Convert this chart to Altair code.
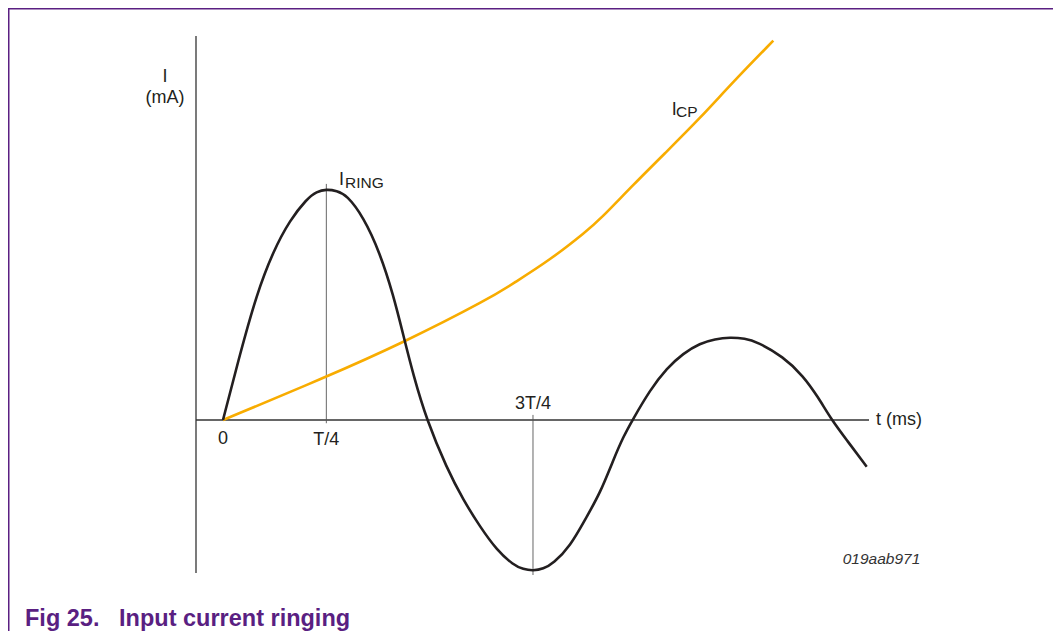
import altair as alt
import pandas as pd

# ---- data (t in units of T/4, current in arbitrary mA units) ----
ring_t = [0.0, 0.1645, 0.3261, 0.4868, 0.6484, 0.8100, 0.9068, 1.0, 1.1004, 1.1971,
          1.3578, 1.5194, 1.6481, 1.7449, 1.8417, 1.9713, 2.1649, 2.3256, 2.4872, 2.6488,
          2.8095, 2.9062, 3.0, 3.0998, 3.1965, 3.3582, 3.5198, 3.6485, 3.7772, 3.8740,
          3.9630, 4.1324, 4.2940, 4.4547, 4.6163, 4.7614, 4.9066, 5.0518, 5.1650, 5.4224,
          5.6160, 5.7583, 5.8908, 6.0360, 6.2296]
ring_i = [0.0, 2.857, 5.455, 7.316, 8.658, 9.567, 9.892, 9.987, 9.922, 9.740,
          8.801, 7.229, 5.411, 3.680, 1.948, 0.0, -2.078, -3.463, -4.619, -5.628,
          -6.277, -6.463, -6.524, -6.450, -6.203, -5.485, -4.186, -3.173, -1.732, -0.723,
          0.0, 1.299, 2.238, 2.887, 3.320, 3.506, 3.580, 3.528, 3.390, 2.740,
          1.905, 0.996, 0.0, -0.866, -2.022]

cp_t = [0.0, 0.9707, 1.7449, 2.5840, 2.8095, 3.1646, 3.5198, 3.6485, 3.9680, 4.2940,
        4.6163, 4.9386, 5.3257]
cp_i = [0.0, 1.805, 3.346, 5.268, 5.918, 6.926, 8.182, 8.680, 10.173, 11.623,
        13.061, 14.645, 16.420]

# axis / guide segments (data units)
seg_name = ["yaxis", "xaxis", "guide_T4", "guide_3T4"]
seg_t = [-0.2613, -0.2613, 1.0, 3.0]
seg_i = [16.62, 0.0, 10.22, 0.22]
seg_t2 = [-0.2613, 6.252, 1.0, 3.0]
seg_i2 = [-6.62, 0.0, -0.14, -6.71]
seg_w = [1.3, 1.3, 0.9, 0.9]
seg_c = ["#333333", "#333333", "#555555", "#555555"]

# labels
main_text = ["I", "(mA)", "I", "I", "0", "T/4", "3T/4"]
main_t = [-0.561, -0.561, 1.123, 4.342, 0.0, 1.0, 3.0]
main_i = [14.65, 13.72, 10.17, 13.20, -1.05, -1.08, 0.463]
main_align = ["center", "center", "left", "left", "center", "center", "center"]

sub_text = ["RING", "CP"]
sub_t = [1.181, 4.384]
sub_i = [10.03, 13.10]

axis_label_text = ["t (ms)"]
axis_label_t = [6.320]
axis_label_i = [-0.195]

code_text = ["019aab971"]
code_t = [5.997]
code_i = [-6.25]

title_text = ["Fig 25.\u00a0\u00a0\u00a0Input current ringing"]
title_t = [-1.916]
title_i = [-8.905]

X_DOMAIN = [-2.0807, 8.0325]
Y_DOMAIN = [-9.134, 17.835]
W, H = 1045, 623
FONT = "Liberation Sans"
INK = "#231f20"
PURPLE = "#5a1f82"

xs = alt.Scale(domain=X_DOMAIN, nice=False, zero=False)
ys = alt.Scale(domain=Y_DOMAIN, nice=False, zero=False)


def X(f="t"):
    return alt.X(f, type="quantitative", scale=xs, axis=None)


def Y(f="i"):
    return alt.Y(f, type="quantitative", scale=ys, axis=None)


ring_df = pd.DataFrame({"t": ring_t, "i": ring_i})
cp_df = pd.DataFrame({"t": cp_t, "i": cp_i})
seg_df = pd.DataFrame({"name": seg_name, "t": seg_t, "i": seg_i, "t2": seg_t2, "i2": seg_i2,
                       "w": seg_w, "c": seg_c})

frame_top = alt.Chart(pd.DataFrame({"k": [0]})).mark_rule(
    color=PURPLE, strokeWidth=1.5).encode(
    x=alt.value(0), x2=alt.value(W), y=alt.value(0.75))
frame_left = alt.Chart(pd.DataFrame({"k": [0]})).mark_rule(
    color=PURPLE, strokeWidth=1.5).encode(
    y=alt.value(0), y2=alt.value(H), x=alt.value(0.75))

segs = alt.Chart(seg_df).mark_rule().encode(
    x=X("t"), y=Y("i"), x2="t2", y2="i2",
    strokeWidth=alt.StrokeWidth("w:Q", scale=None),
    color=alt.Color("c:N", scale=None),
)

cp_line = alt.Chart(cp_df).mark_line(color="#f8ac00", strokeWidth=2.6,
                                     interpolate="basis").encode(
    x=X(), y=Y(), order="t:Q")
ring_line = alt.Chart(ring_df).mark_line(color=INK, strokeWidth=2.6,
                                         interpolate="basis").encode(
    x=X(), y=Y(), order="t:Q")

layers = [frame_top, frame_left, segs, cp_line, ring_line]

main_df = pd.DataFrame({"text": main_text, "t": main_t, "i": main_i, "align": main_align})
for al in ["center", "left"]:
    d = main_df[main_df["align"] == al]
    layers.append(alt.Chart(d).mark_text(font=FONT, fontSize=18, color=INK, align=al,
                                         baseline="alphabetic").encode(
        x=X(), y=Y(), text="text:N"))

layers.append(alt.Chart(pd.DataFrame({"text": sub_text, "t": sub_t, "i": sub_i})).mark_text(
    font=FONT, fontSize=15.5, color=INK, align="left", baseline="alphabetic").encode(
    x=X(), y=Y(), text="text:N"))

layers.append(alt.Chart(pd.DataFrame({"text": axis_label_text, "t": axis_label_t,
                                      "i": axis_label_i})).mark_text(
    font=FONT, fontSize=18, color=INK, align="left", baseline="alphabetic").encode(
    x=X(), y=Y(), text="text:N"))

layers.append(alt.Chart(pd.DataFrame({"text": code_text, "t": code_t, "i": code_i})).mark_text(
    font=FONT, fontSize=15.5, fontStyle="italic", color="#333333", align="left",
    baseline="alphabetic").encode(x=X(), y=Y(), text="text:N"))

layers.append(alt.Chart(pd.DataFrame({"text": title_text, "t": title_t, "i": title_i})).mark_text(
    font=FONT, fontSize=23.5, fontWeight="bold", color=PURPLE, align="left",
    baseline="alphabetic").encode(x=X(), y=Y(), text="text:N"))

chart = alt.layer(*layers).properties(
    width=W, height=H,
    autosize=alt.AutoSizeParams(type="none"),
    padding=0,
    background="white",
).configure_view(stroke=None)

chart.save("out.html", embed_options={"renderer": "svg", "actions": False})
